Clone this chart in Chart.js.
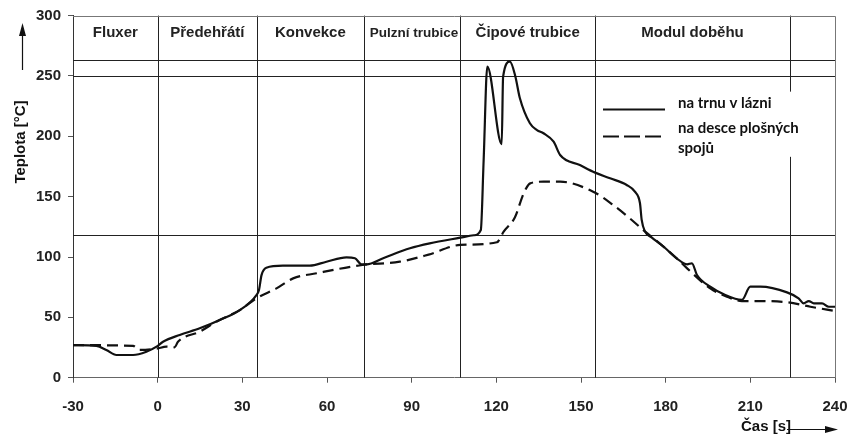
<!DOCTYPE html>
<html>
<head>
<meta charset="utf-8">
<script src="https://cdn.jsdelivr.net/npm/chart.js@4.4.1/dist/chart.umd.min.js"></script>
<style>
  html, body { margin: 0; padding: 0; background: #fff; }
  #wrap { width: 857px; height: 434px; position: relative; }
</style>
</head>
<body>
<div id="wrap"><canvas id="profileChart" width="857" height="434"></canvas></div>
<script>
// Reflow temperature profile: time [s] vs temperature [°C]
const bathTime = [-30, -21.7, -18.2, -14.6, -8.7, -4, -0.4, 1.9, 7.8, 14.9, 22, 29.1, 35, 35.9, 36.8, 38.5, 44.4, 53.9, 59.8, 66.9, 69.9, 72.2, 74, 79.9, 89.4, 96.4, 107.2, 112, 114.5, 115.5, 116.8, 121.9, 122.4, 124.8, 126.7, 128.3, 131.9, 134.4, 136.7, 140.3, 142.6, 149.6, 155, 160.3, 166.2, 169.1, 170.9, 171.5, 172.7, 175, 179.3, 183.9, 187.6, 189.3, 191.1, 195.8, 200.6, 207, 210, 213.5, 223, 227.1, 228.9, 230.7, 232.5, 235.4, 237.8, 240];
const bathTemp = [27, 26.3, 23, 18.8, 18.8, 21.5, 25.7, 29.8, 35.4, 40.9, 47.8, 56, 68.5, 72.7, 85, 91.1, 92.8, 92.8, 96.1, 99.7, 99, 93.9, 93.9, 99, 107.2, 111.3, 116, 118, 122.4, 180, 257.7, 193.4, 249.4, 261.8, 250, 232, 210.8, 205.2, 202.5, 195.5, 184.5, 176.2, 169.9, 165.2, 159.7, 154.1, 144.5, 130.7, 121, 116.3, 108.5, 98.9, 93.9, 94.8, 85.1, 75.4, 69.1, 64.4, 75.4, 75.4, 70.7, 65.8, 61.6, 63.5, 61.6, 61.6, 58.8, 58.8];

const boardTime = [-30, -8.7, -6.4, -0.4, 3.1, 6, 7.2, 14.9, 20.8, 29.1, 35, 42.1, 48, 56.3, 72.5, 85.8, 96, 107.2, 120.2, 122.6, 126.6, 129.7, 132, 136.7, 142.6, 154.3, 161.4, 167.3, 172, 177.1, 183.9, 187.6, 195.8, 201.7, 207, 213.5, 223, 231.3, 240];
const boardTemp = [27, 26.3, 23, 24, 25.7, 25.2, 29.8, 38.1, 46.4, 56, 65.8, 74, 82.3, 86.5, 93.4, 96.1, 102, 110, 112.2, 121, 133, 152.8, 161, 162.4, 162.4, 154.1, 143.1, 132, 122.4, 112.7, 98.9, 90.6, 74, 67.1, 63.5, 63.5, 62.5, 58.8, 55.3];

const seriesNames = ['na trnu v lázni', 'na desce plošných spojů'];

// oven zones and their boundaries on the time axis
const zoneNames = ['Fluxer', 'Předehřátí', 'Konvekce', 'Pulzní trubice', 'Čipové trubice', 'Modul doběhu'];
const zoneEdges = [-30, 0, 35.2, 73, 107.2, 155, 224];
const refLevels = [118, 250, 263];

const xTicks = [-30, 0, 30, 60, 90, 120, 150, 180, 210, 240];
const yTicks = [0, 50, 100, 150, 200, 250, 300];

const FONT = '"Liberation Sans", Arial, sans-serif';
const LEG_FONT = 'Lato, "Open Sans", sans-serif';

function toPoints(xs, ys) {
  return xs.map((x, i) => ({ x: x, y: ys[i] }));
}

function arrow(ctx, x1, y1, x2, y2) {
  const a = Math.atan2(y2 - y1, x2 - x1);
  const len = 13, half = 3.5;
  ctx.beginPath();
  ctx.moveTo(x1, y1);
  ctx.lineTo(x2 - Math.cos(a) * len, y2 - Math.sin(a) * len);
  ctx.stroke();
  ctx.beginPath();
  ctx.moveTo(x2, y2);
  ctx.lineTo(x2 - Math.cos(a) * len - Math.sin(a) * half, y2 - Math.sin(a) * len + Math.cos(a) * half);
  ctx.lineTo(x2 - Math.cos(a) * len + Math.sin(a) * half, y2 - Math.sin(a) * len - Math.cos(a) * half);
  ctx.closePath();
  ctx.fill();
}

// zone lines, level lines and frame, drawn under the curves
const zonePlugin = {
  id: 'zones',
  beforeDatasetsDraw(chart) {
    const { ctx, chartArea: ca, scales: { x, y } } = chart;
    ctx.save();
    ctx.lineWidth = 1;
    ctx.strokeStyle = '#222';
    zoneEdges.slice(1).forEach(t => {
      const px = Math.round(x.getPixelForValue(t)) + 0.5;
      ctx.beginPath();
      ctx.moveTo(px, ca.top);
      ctx.lineTo(px, ca.bottom);
      ctx.stroke();
    });
    refLevels.forEach(v => {
      const py = Math.round(y.getPixelForValue(v)) + 0.5;
      ctx.beginPath();
      ctx.moveTo(ca.left, py);
      ctx.lineTo(ca.right, py);
      ctx.stroke();
    });
    // frame on top and right
    ctx.strokeStyle = '#777';
    ctx.beginPath();
    ctx.moveTo(ca.left, Math.round(ca.top) + 0.5);
    ctx.lineTo(Math.round(ca.right) + 0.5, Math.round(ca.top) + 0.5);
    ctx.lineTo(Math.round(ca.right) + 0.5, ca.bottom);
    ctx.stroke();

    // white box behind the legend
    ctx.fillStyle = '#fff';
    ctx.fillRect(x.getPixelForValue(157), y.getPixelForValue(237), x.getPixelForValue(236) - x.getPixelForValue(157), y.getPixelForValue(183) - y.getPixelForValue(237));

    // zone names
    ctx.fillStyle = '#222';
    ctx.textAlign = 'center';
    ctx.textBaseline = 'middle';
    zoneNames.forEach((name, i) => {
      const cx = (x.getPixelForValue(zoneEdges[i]) + x.getPixelForValue(zoneEdges[i + 1])) / 2;
      ctx.font = (i === 3 ? 'bold 13.5px ' : 'bold 15px ') + FONT;
      ctx.fillText(name, i === 3 ? cx + 2 : cx, y.getPixelForValue(285.5));
    });
    ctx.restore();
  },
  afterDraw(chart) {
    const { ctx } = chart;
    ctx.save();
    ctx.fillStyle = '#111';
    ctx.strokeStyle = '#111';

    // legend
    const lx1 = 603, lx2 = 665;
    ctx.lineWidth = 2.2;
    ctx.beginPath();
    ctx.moveTo(lx1, 109.5);
    ctx.lineTo(lx2, 109.5);
    ctx.stroke();
    ctx.setLineDash([16, 5]);
    ctx.beginPath();
    ctx.moveTo(lx1, 136.5);
    ctx.lineTo(lx2, 136.5);
    ctx.stroke();
    ctx.setLineDash([]);
    ctx.font = 'bold 15px ' + LEG_FONT;
    ctx.textAlign = 'left';
    ctx.textBaseline = 'middle';
    ctx.fillText(seriesNames[0], 678, 103);
    ctx.fillText('na desce plošných', 678, 128);
    ctx.fillText('spojů', 678, 148);

    // axis titles with arrows
    ctx.lineWidth = 1.2;
    ctx.font = 'bold 15px ' + FONT;
    ctx.save();
    ctx.translate(20.5, 142);
    ctx.rotate(-Math.PI / 2);
    ctx.textAlign = 'center';
    ctx.fillText('Teplota [°C]', 0, 0);
    ctx.restore();
    arrow(ctx, 22.5, 70, 22.5, 23);

    ctx.textAlign = 'center';
    ctx.fillText('Čas [s]', 766, 427);
    arrow(ctx, 787, 429.5, 838, 429.5);
    ctx.restore();
  }
};

const ctx = document.getElementById('profileChart').getContext('2d');
new Chart(ctx, {
  type: 'line',
  data: {
    datasets: [
      {
        label: seriesNames[0],
        data: toPoints(bathTime, bathTemp),
        borderColor: '#111',
        borderWidth: 2.2,
        pointRadius: 0,
        cubicInterpolationMode: 'monotone',
        fill: false
      },
      {
        label: seriesNames[1],
        data: toPoints(boardTime, boardTemp),
        borderColor: '#111',
        borderWidth: 2.2,
        borderDash: [11, 6],
        pointRadius: 0,
        cubicInterpolationMode: 'monotone',
        fill: false
      }
    ]
  },
  options: {
    responsive: false,
    animation: false,
    layout: { padding: { top: 15.6, right: 22, left: 0, bottom: 0 } },
    plugins: {
      legend: { display: false },
      tooltip: { enabled: false }
    },
    scales: {
      x: {
        type: 'linear',
        min: -30,
        max: 240,
        afterBuildTicks: s => { s.ticks = xTicks.map(v => ({ value: v })); },
        afterFit: s => { s.height = 56.3; s.paddingLeft = 0; s.paddingRight = 0; },
        grid: { drawOnChartArea: false, tickLength: 5, color: '#555' },
        border: { color: '#666', width: 1 },
        ticks: {
          color: '#222',
          padding: 15,
          maxRotation: 0,
          font: { family: FONT, size: 15, weight: 'bold' }
        }
      },
      y: {
        min: 0,
        max: 300,
        afterBuildTicks: s => { s.ticks = yTicks.map(v => ({ value: v })); },
        afterFit: s => { s.width = 73; s.paddingTop = 0; s.paddingBottom = 0; },
        grid: { drawOnChartArea: false, tickLength: 5, color: '#555' },
        border: { color: '#333', width: 1 },
        ticks: {
          color: '#222',
          padding: 7,
          font: { family: FONT, size: 15, weight: 'bold' }
        }
      }
    }
  },
  plugins: [zonePlugin]
});
</script>
</body>
</html>
